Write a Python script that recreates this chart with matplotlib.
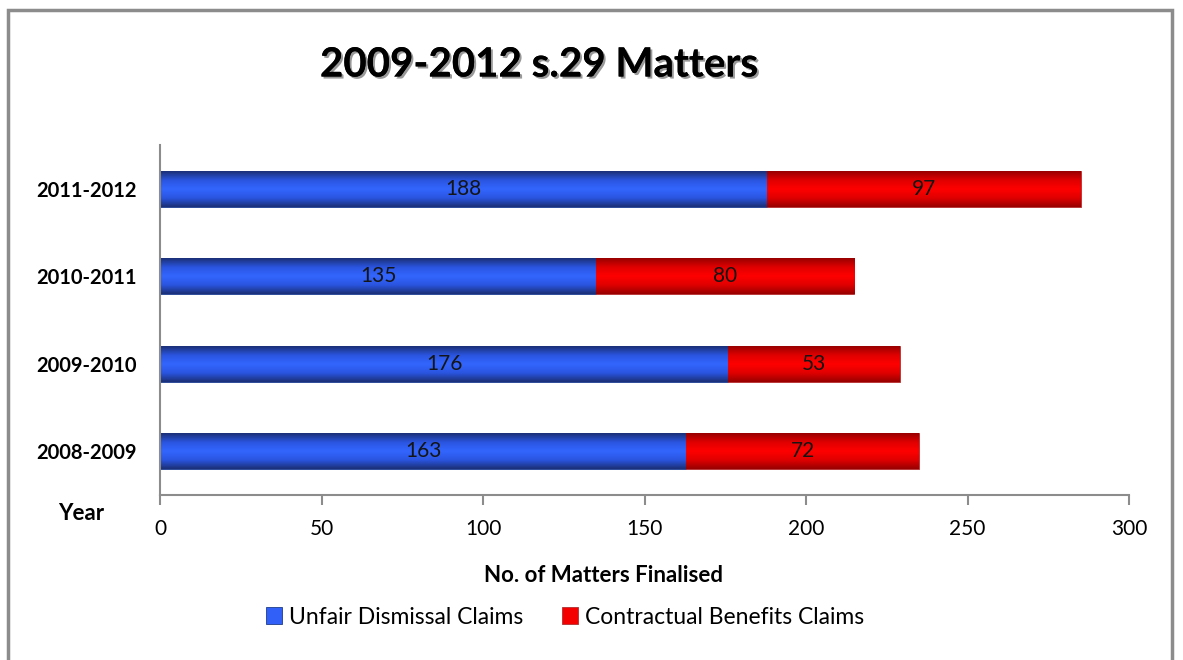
import matplotlib
matplotlib.use("Agg")
import matplotlib.pyplot as plt
import matplotlib.patheffects as pe
from matplotlib.patches import Rectangle
from matplotlib.colors import LinearSegmentedColormap
import numpy as np

years = ["2008-2009", "2009-2010", "2010-2011", "2011-2012"]
unfair = [163, 176, 135, 188]
contractual = [72, 53, 80, 97]
xticks = [0, 50, 100, 150, 200, 250, 300]

plt.rcParams['font.family'] = ['Lato', 'DejaVu Sans']

W, H = 1183, 660
fig = plt.figure(figsize=(W/100, H/100), dpi=100)
fig.patches.append(Rectangle((8/W, -0.1), (1172-8)/W, 1.1 - 10/H, transform=fig.transFigure,
                             fill=False, edgecolor='#8c8c8c', linewidth=2.5))

ax = fig.add_axes([160/W, 1-495/H, (1129-160)/W, (495-145)/H])
y = np.arange(len(years))
bh = 0.41
b1 = ax.barh(y, unfair, height=bh, color='#3060f8', edgecolor='#1f3d8a', linewidth=0.6, label='Unfair Dismissal Claims')
b2 = ax.barh(y, contractual, left=unfair, height=bh, color='#f50000', edgecolor='#b03030', linewidth=0.6, label='Contractual Benefits Claims')

blue_cm = LinearSegmentedColormap.from_list('b', ['#1c3078', '#2a55e0', '#3366ff', '#2a55e0', '#1c3078'])
red_cm = LinearSegmentedColormap.from_list('r', ['#990000', '#e00000', '#ff0000', '#e00000', '#990000'])
grad = np.linspace(0, 1, 64).reshape(-1, 1)
for bars, cm in ((b1, blue_cm), (b2, red_cm)):
    for p in bars:
        x0, y0 = p.get_x(), p.get_y()
        w, h = p.get_width(), p.get_height()
        im = ax.imshow(grad, cmap=cm, aspect='auto', extent=(x0, x0 + w, y0, y0 + h),
                       origin='lower', zorder=p.get_zorder() + 0.1, interpolation='bilinear')
        im.set_clip_path(p)

for i in range(len(years)):
    ax.text(unfair[i]/2, y[i], str(unfair[i]), ha='center', va='center', fontsize=15, color='#151515', zorder=5)
    ax.text(unfair[i] + contractual[i]/2, y[i], str(contractual[i]), ha='center', va='center', fontsize=15, color='#151515', zorder=5)

ax.set_xlim(0, 300)
ax.set_ylim(-0.5, 3.5)
ax.set_xticks(xticks)
ax.set_xticklabels([str(t) for t in xticks], fontsize=15)
ax.set_yticks(y)
ax.set_yticklabels(years, fontsize=14.5, fontweight='bold')
ax.tick_params(axis='y', which='major', length=0, pad=17)
ax.tick_params(axis='x', length=7, color='#8c8c8c', width=1.5, pad=10)
for s in ['top', 'right']:
    ax.spines[s].set_visible(False)
for s in ['left', 'bottom']:
    ax.spines[s].set_color('#8c8c8c')
    ax.spines[s].set_linewidth(1.5)

fig.text(539/W, 1-65/H, "2009-2012 s.29 Matters", ha='center', va='center', fontsize=29,
         fontweight='bold', color='black',
         path_effects=[pe.withSimplePatchShadow(offset=(1.5, -1.5), shadow_rgbFace='#555555', alpha=0.6), pe.Normal()])
fig.text(81/W, 1-513/H, "Year", ha='center', va='center', fontsize=16, fontweight='bold')
fig.text(604/W, 1-575/H, "No. of Matters Finalised", ha='center', va='center', fontsize=16, fontweight='bold')

fig.legend(handles=[b1, b2], loc='center', bbox_to_anchor=(565/W, 1-617/H), ncol=2, frameon=False,
           fontsize=16.5, handlelength=0.7, handleheight=0.7, handletextpad=0.3, columnspacing=1.7)

fig.savefig("out.png", dpi=100)
